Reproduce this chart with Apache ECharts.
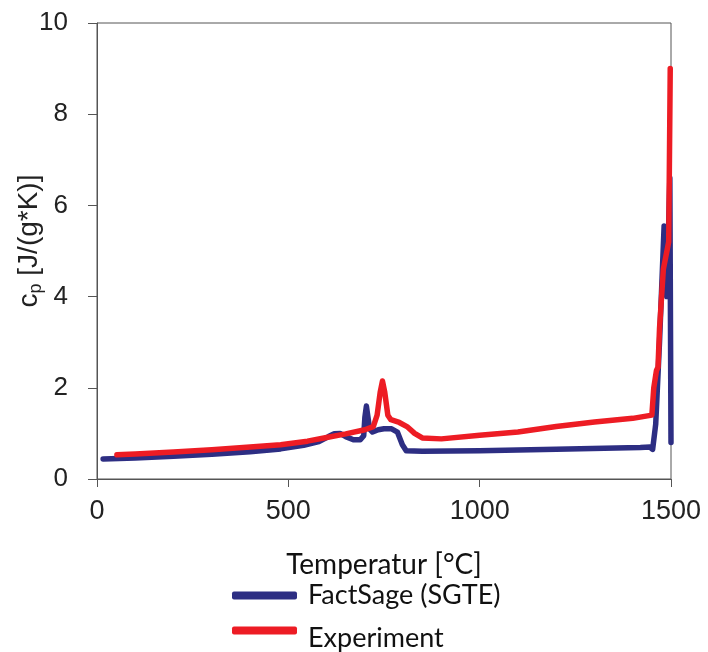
<!DOCTYPE html>
<html>
<head>
<meta charset="utf-8">
<script src="https://cdn.jsdelivr.net/npm/echarts@6/dist/echarts.min.js"></script>
<style>html,body{margin:0;padding:0;background:#fff}#c{width:708px;height:652px}</style>
</head>
<body>
<div id="c"></div>
<script>
// Temperature [°C] vs c_p [J/(g*K)]
const factSage = [
  [16,0.44],[100,0.46],[200,0.50],[300,0.54],[400,0.60],[480,0.66],[540,0.74],[580,0.82],
  [605,0.93],[620,0.99],[635,1.00],[650,0.93],[670,0.86],[688,0.86],[697,0.95],[700,1.35],
  [704,1.60],[709,1.30],[712,1.10],[720,1.03],[735,1.08],[750,1.10],[770,1.10],[785,1.03],
  [798,0.75],[808,0.62],[850,0.61],[1000,0.62],[1200,0.65],[1420,0.69],[1445,0.70],
  [1452,0.65],[1457,0.62],[1460,1.2],[1470,3.0],[1482,5.55],[1489,4.0],[1497,6.6],[1500,0.8]
];
const experiment = [
  [52,0.53],[100,0.55],[200,0.59],[300,0.64],[400,0.70],[480,0.75],[550,0.83],[600,0.91],
  [650,0.99],[700,1.08],[722,1.15],[732,1.40],[740,1.90],[746,2.15],[752,1.90],[760,1.40],
  [768,1.30],[790,1.24],[810,1.15],[830,1.00],[850,0.90],[900,0.88],[1000,0.96],[1100,1.03],
  [1200,1.15],[1300,1.25],[1400,1.33],[1450,1.40],[1455,2.00],[1462,2.38],[1466,2.45],
  [1470,3.30],[1480,4.60],[1494,5.20],[1498,9.00]
];
const seriesNames = ['FactSage (SGTE)', 'Experiment'];
const xTicks = [0, 500, 1000, 1500];
const yTicks = [0, 2, 4, 6, 8, 10];

const BLUE = '#2D2E83', RED = '#ED1C24';
const axisColor = '#555';
const chart = echarts.init(document.getElementById('c'));
chart.setOption({
  animation: false,
  backgroundColor: '#fff',
  grid: { left: 97, right: 37, top: 23, bottom: 173, show: true, borderColor: axisColor, borderWidth: 1,
          backgroundColor: 'transparent', containLabel: false, outerBoundsMode: 'none' },
  legend: [
    { data: [seriesNames[0]], left: 227, top: 577, itemWidth: 65, itemHeight: 8, icon: 'roundRect',
      itemStyle: { borderWidth: 0 },
      textStyle: { fontFamily: 'Lato', fontSize: 27, color: '#111', padding: [2,0,0,6] } },
    { data: [seriesNames[1]], left: 227, top: 620, itemWidth: 65, itemHeight: 8, icon: 'roundRect',
      itemStyle: { borderWidth: 0 },
      formatter: '{t|{name}}',
      textStyle: { fontFamily: 'Lato', fontSize: 27, color: '#111', padding: [0,0,0,6],
        rich: { t: { fontFamily: 'Lato', fontSize: 27, color: '#111', padding: [16,0,0,0] } } } }
  ],
  xAxis: {
    type: 'value', min: xTicks[0], max: xTicks[xTicks.length-1], interval: 500,
    name: 'Temperatur [°C]', nameLocation: 'middle', nameGap: 72, nameMoveOverlap: false,
    nameTextStyle: { fontFamily: 'Lato', fontSize: 28, color: '#111' },
    axisLine: { lineStyle: { color: axisColor, width: 1 } },
    axisTick: { show: true, inside: false, length: 8, lineStyle: { color: axisColor } },
    axisLabel: { fontFamily: 'Liberation Sans', fontSize: 27, color: '#222', margin: 19,
                 formatter: function (v) { return String(v); } },
    splitLine: { show: false }
  },
  yAxis: {
    type: 'value', min: yTicks[0], max: yTicks[yTicks.length-1], interval: 2,
    name: '{a|c}{b|p} [J/(g*K)]', nameLocation: 'middle', nameRotate: 90, nameGap: 52, nameMoveOverlap: false,
    nameTextStyle: { fontFamily: 'Liberation Sans', fontSize: 28, color: '#222', padding: [0,0,0,20],
      rich: { a: { fontFamily: 'Liberation Sans', fontSize: 28, color: '#222' },
              b: { fontFamily: 'Liberation Sans', fontSize: 18, color: '#222', padding: [14,0,0,0] } } },
    axisLine: { show: true, lineStyle: { color: axisColor, width: 1 } },
    axisTick: { show: true, inside: false, length: 9, lineStyle: { color: axisColor } },
    axisLabel: { fontFamily: 'Liberation Sans', fontSize: 26, color: '#222', margin: 29,
                 formatter: function (v) { return String(v); } },
    splitLine: { show: false }
  },
  series: [
    { name: seriesNames[0], type: 'line', data: factSage, showSymbol: false, symbol: 'none',
      itemStyle: { color: BLUE }, lineStyle: { color: BLUE, width: 5.5, cap: 'round', join: 'round' } },
    { name: seriesNames[1], type: 'line', data: experiment, showSymbol: false, symbol: 'none',
      itemStyle: { color: RED }, lineStyle: { color: RED, width: 5.5, cap: 'round', join: 'round' } }
  ]
});
</script>
</body>
</html>
